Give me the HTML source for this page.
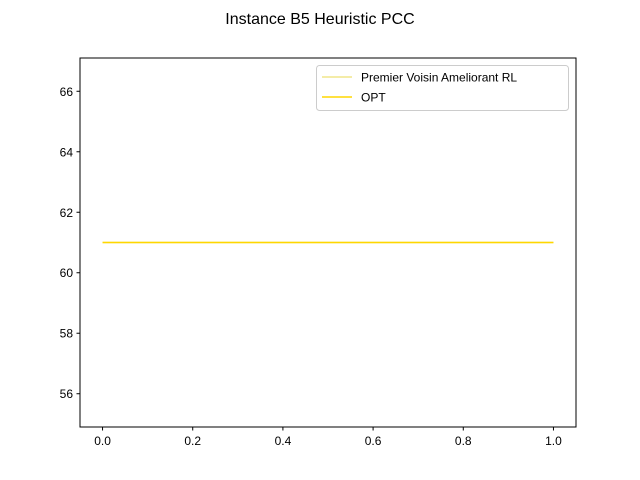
<!DOCTYPE html>
<html><head><meta charset="utf-8"><style>
body{margin:0;background:#fff;}
svg{display:block;font-family:"Liberation Sans","DejaVu Sans",sans-serif;}
</style></head><body>
<svg id="chart" width="640" height="480">
<rect width="640" height="480" fill="#fff"/>
<text x="320" y="24" text-anchor="middle" font-size="16">Instance B5 Heuristic PCC</text>
<g id="plot"></g>
</svg>
<script>
const xTicks=[0.0,0.2,0.4,0.6,0.8,1.0];
const yTicks=[56,58,60,62,64,66];
const seriesNames=["Premier Voisin Ameliorant RL","OPT"];
const seriesColors=["#f0e68c","#ffd700"];
const xs=[0,1];
const rlValues=[61,61];
const optValues=[61,61];
const L=80,R=576,T=58,B=427;
const xMin=-0.05,xMax=1.05,yMin=54.9,yMax=67.1;
const sx=v=>L+(v-xMin)/(xMax-xMin)*(R-L);
const sy=v=>B-(v-yMin)/(yMax-yMin)*(B-T);
const NS="http://www.w3.org/2000/svg";
const g=document.getElementById('plot');
function mk(t,a){const e=document.createElementNS(NS,t);for(const k in a)e.setAttribute(k,a[k]);g.appendChild(e);return e;}
function line(vals,color,name){
  const p=mk('polyline',{points:xs.map((x,i)=>sx(x)+','+sy(vals[i])).join(' '),fill:'none',stroke:color,'stroke-width':1.5});
  
  
}
line(rlValues,seriesColors[0],'series-rl-line');
line(optValues,seriesColors[1],'series-opt-line');
const frame=mk('rect',{x:L,y:T,width:R-L,height:B-T,fill:'none',stroke:'#000','stroke-width':1});


xTicks.forEach(v=>{
  const x=sx(v);
  const t=mk('line',{x1:x,x2:x,y1:B,y2:B+3.5,stroke:'#000'});
  
  
  const l=mk('text',{x:x,y:B+18,'text-anchor':'middle','font-size':12});
  l.textContent=v.toFixed(1);
  
  
});
yTicks.forEach(v=>{
  const y=sy(v);
  const t=mk('line',{x1:L-3.5,x2:L,y1:y,y2:y,stroke:'#000'});
  
  
  const l=mk('text',{x:L-7,y:y+4.5,'text-anchor':'end','font-size':12});
  l.textContent=v;
  
  
});
const lg=mk('rect',{x:316.5,y:65.5,width:252,height:45,rx:3,fill:'#fff',stroke:'#ccc'});


seriesNames.forEach((n,i)=>{
  const y=77+i*20;
  const s=mk('line',{x1:322,x2:352,y1:y,y2:y,stroke:seriesColors[i],'stroke-width':1.5});
  
  
  const t=mk('text',{x:361,y:y+4.5,'font-size':12});
  t.textContent=n;
  
  
});
</script>
</body></html>
